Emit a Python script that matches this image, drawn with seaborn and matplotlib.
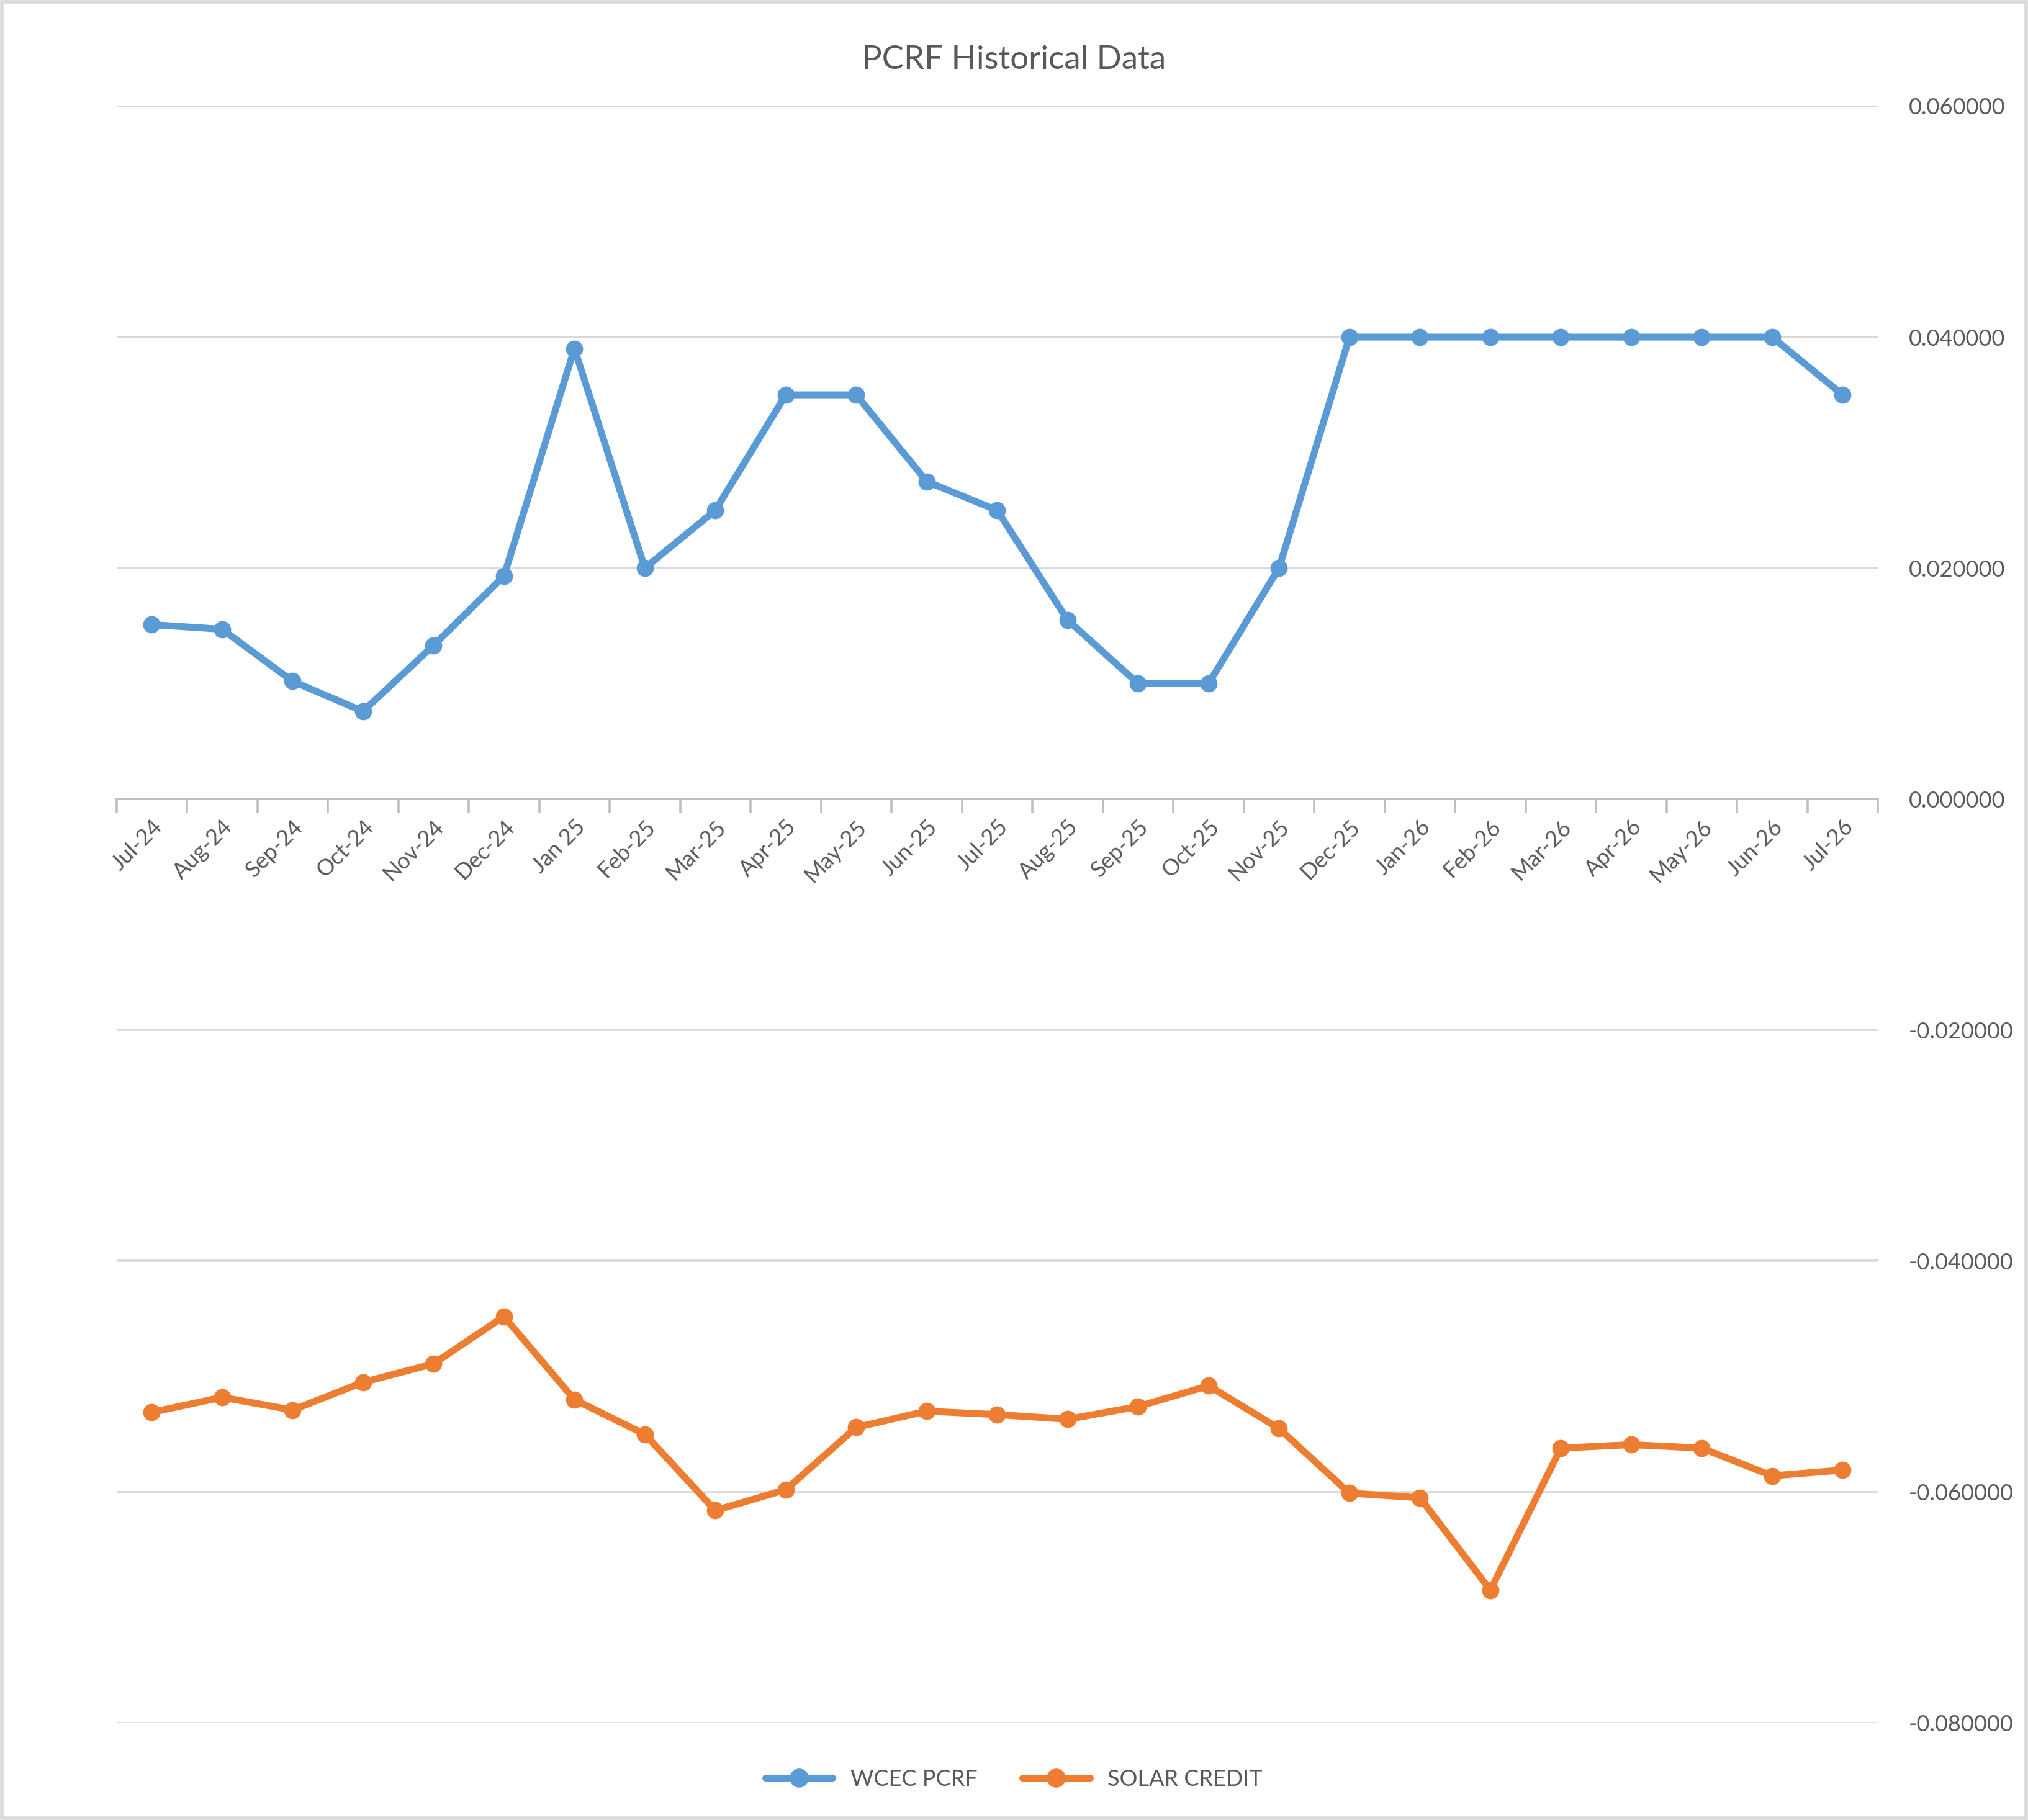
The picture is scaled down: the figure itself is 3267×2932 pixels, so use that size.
import matplotlib.pyplot as plt
import matplotlib.patches as mpatches
import numpy as np
import pandas as pd
import seaborn as sns

months = ["Jul-24", "Aug-24", "Sep-24", "Oct-24", "Nov-24", "Dec-24", "Jan 25",
          "Feb-25", "Mar-25", "Apr-25", "May-25", "Jun-25", "Jul-25", "Aug-25",
          "Sep-25", "Oct-25", "Nov-25", "Dec-25", "Jan-26", "Feb-26", "Mar-26",
          "Apr-26", "May-26", "Jun-26", "Jul-26"]
wcec_pcrf = [0.0151, 0.0147, 0.0102, 0.0076, 0.0133, 0.0193, 0.0390,
             0.0200, 0.0250, 0.0350, 0.0350, 0.0275, 0.0250, 0.0155,
             0.0100, 0.0100, 0.0200, 0.0400, 0.0400, 0.0400, 0.0400,
             0.0400, 0.0400, 0.0400, 0.0350]
solar_credit = [-0.0531, -0.0518, -0.0529, -0.0505, -0.0489, -0.0448, -0.0520,
                -0.0550, -0.0616, -0.0598, -0.0544, -0.0530, -0.0533, -0.0537,
                -0.0526, -0.0508, -0.0545, -0.0601, -0.0605, -0.0685, -0.0562,
                -0.0559, -0.0562, -0.0586, -0.0581]

sns.set_theme(style="white")
plt.rcParams["font.family"] = ["Lato", "DejaVu Sans"]

df = pd.DataFrame({
    "x": list(range(len(months))) * 2,
    "value": wcec_pcrf + solar_credit,
    "series": ["WCEC PCRF"] * len(months) + ["SOLAR CREDIT"] * len(months),
})

fig = plt.figure(figsize=(16.335, 14.66), dpi=200)
ax = fig.add_axes([0.0574, 0.0533, 0.8686, 0.8884])
sns.lineplot(data=df, x="x", y="value", hue="series",
             palette={"WCEC PCRF": "#5B9BD5", "SOLAR CREDIT": "#ED7D31"},
             marker="o", markersize=10, markeredgewidth=0, linewidth=4,
             ax=ax, legend=False)

ax.set_xlim(-0.5, len(months) - 0.5)
ax.set_ylim(-0.08, 0.06)
ax.set_yticks(np.arange(-0.08, 0.0601, 0.02))
ax.yaxis.tick_right()
ax.set_yticklabels([f"{v:.6f}" for v in np.arange(-0.08, 0.0601, 0.02)],
                   fontsize=13, color="#595959")
ax.tick_params(axis="y", length=0, pad=18)
ax.yaxis.grid(True, color="#D9D9D9", linewidth=1.3)
ax.set_axisbelow(True)

for s in ["top", "left", "right"]:
    ax.spines[s].set_visible(False)
ax.spines["bottom"].set_position(("data", 0))
ax.spines["bottom"].set_color("#BFBFBF")
ax.spines["bottom"].set_linewidth(1.3)
ax.set_xticks(range(len(months)))
ax.set_xticklabels(months, rotation=45, ha="right", rotation_mode="anchor",
                   fontsize=13, color="#595959")
ax.set_xticks(np.arange(-0.5, len(months), 1), minor=True)
ax.tick_params(axis="x", which="major", length=0, pad=10)
ax.tick_params(axis="x", which="minor", length=8, color="#BFBFBF", width=1.3,
               bottom=True)
ax.set_xlabel("")
ax.set_ylabel("")

fig.suptitle("PCRF Historical Data", y=0.975, fontsize=19, color="#595959")

handles = [plt.Line2D([], [], color="#5B9BD5", marker="o", markersize=10, lw=4),
           plt.Line2D([], [], color="#ED7D31", marker="o", markersize=10, lw=4)]
fig.legend(handles, ["WCEC PCRF", "SOLAR CREDIT"], loc="center",
           bbox_to_anchor=(0.5, 0.0225), ncol=2, frameon=False, fontsize=13,
           labelcolor="#595959", handlelength=3, columnspacing=2)

fig.patches.append(mpatches.Rectangle((0.001, 0.001), 0.998, 0.998,
                                      transform=fig.transFigure, fill=False,
                                      edgecolor="#D9D9D9", linewidth=2))
fig.savefig("out.png", dpi=200)
